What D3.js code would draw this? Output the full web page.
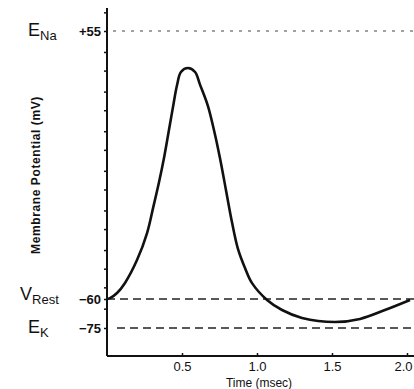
<!DOCTYPE html>
<html>
<head>
<meta charset="utf-8">
<script src="https://cdn.jsdelivr.net/npm/d3@7"></script>
<style>
  html, body { margin: 0; padding: 0; background: #fff; }
  svg { display: block; font-family: "Liberation Sans", Arial, sans-serif; }
</style>
</head>
<body>
<div id="chart"></div>
<script>
// action potential trace, time in msec, potential in mV
const timeMs = [0, 0.02, 0.067, 0.12, 0.2, 0.267, 0.307, 0.347, 0.38, 0.413, 0.44, 0.467, 0.493, 0.54,
  0.587, 0.62, 0.673, 0.713, 0.753, 0.793, 0.833, 0.873, 0.92, 0.967, 1.067, 1.167, 1.3, 1.52,
  1.687, 1.853, 2.02];
const potentialMv = [-60, -59.6, -57.4, -53.1, -43.3, -31.7, -21.0, -9.8, 0.5, 12.5, 22.4, 31.8, 37.4, 39.1,
  37.4, 32.0, 22.8, 12.5, 0.5, -13.2, -27.0, -38.5, -46.7, -53.2, -60.5, -65.7, -69.8, -71.9,
  -70.3, -65.7, -60.5];

// reference levels
const levelNames = ["Na", "Rest", "K"];
const levelValues = [55, -60, -75];
const levelLabels = ["+55", "\u221260", "\u221275"];

// axis ticks
const yMinorTicks = [63, 55, 46, 38, 29, 21, 12, 4, -5, -13, -22, -30, -39, -47, -55, -60, -65, -75];
const xTicks = [0.5, 1.0, 1.5, 2.0];

const width = 414, height = 389;
const x0 = 107, yBase = 356;

const svg = d3.select("#chart").append("svg")
  .attr("width", width)
  .attr("height", height);

// x scale: 0.5 msec = 75px
const x = d3.scaleLinear().domain([0, 2.05]).range([x0, x0 + 2.05 * 150]);
// the original figure is not drawn to one linear scale; piecewise keeps the levels in place
const y = d3.scaleLinear().domain([-75, -60, 55]).range([328, 299, 31]);

// y axis
const yAxis = d3.axisLeft(y)
  .tickValues(yMinorTicks)
  .tickFormat("")
  .tickSizeInner(4)
  .tickSizeOuter(0);
const gy = svg.append("g")
  .attr("transform", `translate(${x0 + 1},0)`)
  .call(yAxis);
gy.select(".domain").remove();
gy.selectAll(".tick line").attr("stroke", "#111").attr("stroke-width", 1.5);
svg.append("line")
  .attr("x1", x0).attr("x2", x0)
  .attr("y1", 8).attr("y2", yBase)
  .attr("stroke", "#111").attr("stroke-width", 2);

// x axis
const xAxis = d3.axisBottom(x)
  .tickValues(xTicks)
  .tickFormat(d3.format(".1f"))
  .tickSizeInner(-3)
  .tickSizeOuter(0)
  .tickPadding(6);
const gx = svg.append("g")
  .attr("transform", `translate(0,${yBase})`)
  .call(xAxis);
gx.select(".domain").remove();
gx.selectAll(".tick line").attr("stroke", "#111").attr("stroke-width", 1.5);
gx.selectAll(".tick text")
  .attr("font-size", 13)
  .attr("fill", "#111");
// the last label sits at the right edge; nudge it inside
gx.selectAll(".tick text").filter(d => d === 2.0).attr("text-anchor", "end").attr("dx", 5);
svg.append("line")
  .attr("x1", x0).attr("x2", width)
  .attr("y1", yBase).attr("y2", yBase)
  .attr("stroke", "#111").attr("stroke-width", 2);

svg.append("text")
  .attr("x", 259)
  .attr("y", 387)
  .attr("text-anchor", "middle")
  .attr("font-size", 12)
  .attr("fill", "#111")
  .text("Time (msec)");

svg.append("text")
  .attr("transform", "translate(40,175) rotate(-90)")
  .attr("text-anchor", "middle")
  .attr("font-size", 12)
  .attr("font-weight", "bold")
  .attr("letter-spacing", 0.6)
  .attr("fill", "#111")
  .text("Membrane Potential (mV)");

// reference level lines
const dashes = ["3,6", "8,5", "8,5"];
const lineStart = [113, x0, 117];
levelValues.forEach((v, i) => {
  svg.append("line")
    .attr("x1", lineStart[i]).attr("x2", width)
    .attr("y1", y(v)).attr("y2", y(v))
    .attr("stroke", i === 0 ? "#444" : "#222")
    .attr("stroke-width", i === 0 ? 1.2 : 1.7)
    .attr("stroke-dasharray", dashes[i]);

  svg.append("text")
    .attr("x", 101)
    .attr("y", y(v))
    .attr("dy", "0.35em")
    .attr("text-anchor", "end")
    .attr("font-size", 13)
    .attr("font-weight", "bold")
    .attr("fill", "#111")
    .text(levelLabels[i]);
});

// level names with subscripts
const nameX = [28, 20, 28];
const nameDy = [0, -4, 0];
levelNames.forEach((n, i) => {
  const t = svg.append("text")
    .attr("x", nameX[i])
    .attr("y", y(levelValues[i]) + 5 + nameDy[i])
    .attr("font-size", 18)
    .attr("fill", "#111");
  t.append("tspan").text(i === 1 ? "V" : "E");
  t.append("tspan")
    .attr("dy", 4)
    .attr("font-size", 13)
    .text(n);
});

// action potential curve
const pts = timeMs.map((t, i) => [t, potentialMv[i]]);
const line = d3.line()
  .x(d => x(d[0]))
  .y(d => y(d[1]))
  .curve(d3.curveCatmullRom.alpha(0.5));
svg.append("path")
  .datum(pts)
  .attr("fill", "none")
  .attr("stroke", "#111")
  .attr("stroke-width", 2.6)
  .attr("stroke-linejoin", "round")
  .attr("d", line);
</script>
</body>
</html>
